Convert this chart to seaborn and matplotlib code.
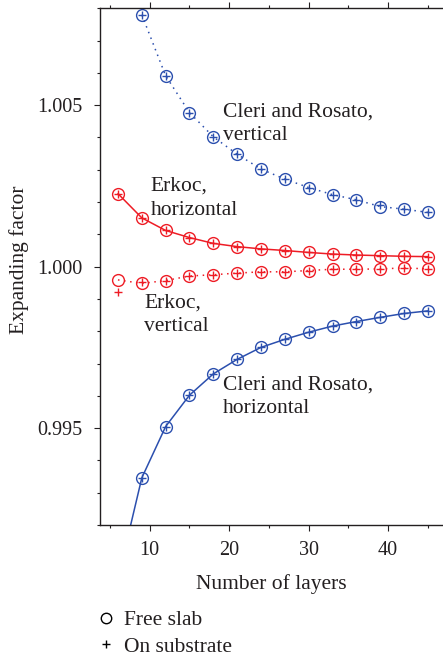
import numpy as np
import pandas as pd
import matplotlib
matplotlib.use("Agg")
import matplotlib.pyplot as plt
from matplotlib.lines import Line2D
import seaborn as sns

# ---------------- data ----------------
layers = [6, 9, 12, 15, 18, 21, 24, 27, 30, 33, 36, 39, 42, 45]

cleri_vert_layers = [9, 12, 15, 18, 21, 24, 27, 30, 33, 36, 39, 42, 45]
cleri_vert_free = [1.00780, 1.00591, 1.00477, 1.00402, 1.00348, 1.00302, 1.00271,
                   1.00245, 1.00223, 1.00207, 1.00186, 1.00178, 1.00168]
cleri_vert_sub = [1.00780, 1.00591, 1.00477, 1.00402, 1.00348, 1.00302, 1.00271,
                  1.00245, 1.00223, 1.00207, 1.00192, 1.00178, 1.00168]

cleri_horiz_free = [0.99034, 0.99346, 0.99505, 0.99602, 0.99668, 0.99713, 0.99750,
                    0.99775, 0.99797, 0.99816, 0.99830, 0.99843, 0.99855, 0.99863]
cleri_horiz_sub = [0.99034, 0.99346, 0.99505, 0.99602, 0.99668, 0.99713, 0.99750,
                   0.99775, 0.99797, 0.99816, 0.99830, 0.99843, 0.99855, 0.99863]

erkoc_horiz_free = [1.00226, 1.00151, 1.00112, 1.00090, 1.00072, 1.00062, 1.00055,
                    1.00050, 1.00044, 1.00039, 1.00036, 1.00034, 1.00032, 1.00031]
erkoc_horiz_sub = [1.00226, 1.00151, 1.00112, 1.00090, 1.00072, 1.00062, 1.00055,
                   1.00050, 1.00044, 1.00039, 1.00036, 1.00034, 1.00032, 1.00031]

erkoc_vert_free = [0.99959, 0.99948, 0.99957, 0.99971, 0.99975, 0.99980, 0.99984,
                   0.99984, 0.99988, 0.99992, 0.99992, 0.99993, 0.99996, 0.99993]
erkoc_vert_sub = [0.99922, 0.99953, 0.99957, 0.99971, 0.99975, 0.99980, 0.99984,
                  0.99984, 0.99988, 0.99992, 0.99992, 0.99993, 0.99996, 0.99993]

y_ticks = [0.995, 1.000, 1.005]
y_ticklabels = ["0.995", "1.000", "1.005"]
x_ticks = [10, 20, 30, 40]

BLUE = "#2b4fae"
RED = "#ee1c25"
TXT = "#231f20"

sns.set_theme(style="ticks")
plt.rcParams["font.family"] = ["Liberation Serif", "DejaVu Serif"]
plt.rcParams["text.color"] = TXT
plt.rcParams["axes.labelcolor"] = TXT
plt.rcParams["xtick.color"] = TXT
plt.rcParams["ytick.color"] = TXT

W, H = 443, 657
fig = plt.figure(figsize=(W / 100, H / 100), dpi=100)
ax = fig.add_axes([99.7 / W, 1 - 525 / H, 1 - 99.7 / W, (525 - 8.3) / H])

series = [
    (cleri_vert_layers, cleri_vert_free, cleri_vert_sub, BLUE, (0, (1, 3))),
    (layers, cleri_horiz_free, cleri_horiz_sub, BLUE, "-"),
    (layers, erkoc_horiz_free, erkoc_horiz_sub, RED, "-"),
    (layers, erkoc_vert_free, erkoc_vert_sub, RED, (0, (1, 3))),
]

for xs, free, sub, col, ls in series:
    sns.lineplot(x=xs, y=free, ax=ax, color=col, linestyle=ls, linewidth=1.1,
                 marker="o", markersize=8.5, markerfacecolor="none",
                 markeredgecolor=col, markeredgewidth=1.0, estimator=None,
                 sort=False, legend=False)
    sns.lineplot(x=xs, y=sub, ax=ax, color=col, linestyle="none",
                 marker="+", markersize=6, markeredgecolor=col,
                 markeredgewidth=1.0, estimator=None, sort=False, legend=False)

ax.set_xlim(3.7, 46.9)
ax.set_ylim(0.992, 1.008)
ax.set_xticks(x_ticks)
ax.set_xticks([5, 15, 25, 35, 45], minor=True)
ax.set_yticks(y_ticks)
ax.set_yticklabels(y_ticklabels)
ax.set_yticks(np.arange(0.992, 1.0081, 0.001), minor=True)
ax.tick_params(which="both", direction="out", top=True, right=False,
               width=0.8, labelsize=14.5, colors=TXT)
ax.tick_params(which="major", length=4.5)
ax.tick_params(axis="x", which="major", pad=7)
ax.tick_params(axis="y", which="major", pad=8)
ax.tick_params(which="minor", length=2.2)
for s in ["left", "bottom", "top"]:
    ax.spines[s].set_linewidth(1.0)
    ax.spines[s].set_color(TXT)
ax.spines["right"].set_visible(False)

ax.set_xlabel("Number of layers", fontsize=15.5, labelpad=10)
ax.set_ylabel("Expanding factor", fontsize=15.5)
ax.yaxis.set_label_coords(-0.206, 0.513)

fs = 15.5
ls_ = 1.35
ax.text(19.25, 1.00508, "Cleri and Rosato,\nvertical", fontsize=fs, va="top", ha="left",
        color=TXT, linespacing=ls_)
ax.text(10.08, 1.00278, "Erkoc,\nhorizontal", fontsize=fs, va="top", ha="left",
        color=TXT, linespacing=ls_)
ax.text(9.33, 0.99918, "Erkoc,\nvertical", fontsize=fs, va="top", ha="left",
        color=TXT, linespacing=ls_)
ax.text(19.2, 0.99664, "Cleri and Rosato,\nhorizontal", fontsize=fs, va="top", ha="left",
        color=TXT, linespacing=ls_)

handles = [
    Line2D([], [], linestyle="none", marker="o", markersize=7.5, markerfacecolor="none",
           markeredgecolor="black", markeredgewidth=1.0),
    Line2D([], [], linestyle="none", marker="+", markersize=6, markeredgecolor="black",
           markeredgewidth=1.0),
]
fig.legend(handles, ["Free slab", "On substrate"], loc="upper left",
           bbox_to_anchor=(95 / W, 1 - 610 / H), frameon=False, fontsize=15.5,
           handlelength=1.0, handletextpad=0.35, labelspacing=0.3, borderaxespad=0,
           borderpad=0)

fig.savefig("out.png", dpi=100)
